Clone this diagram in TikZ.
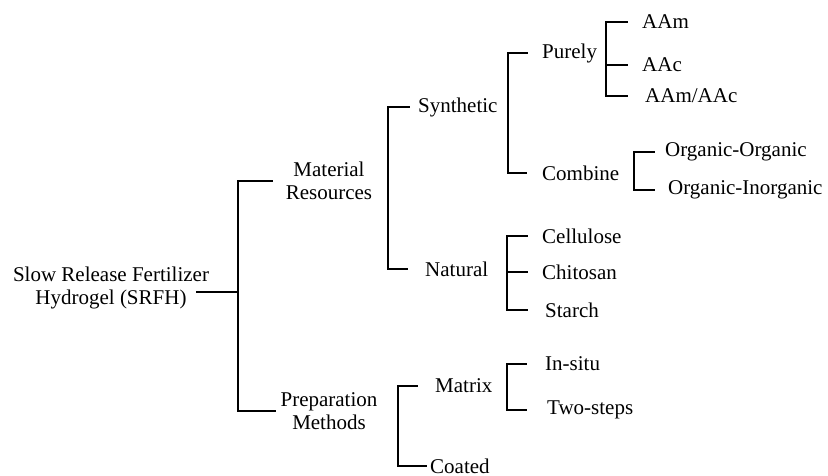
\documentclass[tikz,border=0pt]{standalone}
\usepackage{fontspec}
\setmainfont{Liberation Serif}

\begin{document}
\begin{tikzpicture}[x=1pt, y=-1pt,
            lbl/.style={inner sep=0pt, font=\fontsize{21}{23.5}\selectfont},
            leaf/.style={lbl, anchor=west},
            br/.style={line width=1.6pt},
            thickbr/.style={line width=2.4pt}]

            \useasboundingbox (0,0) rectangle (828,475);

            \node[lbl, align=center] (srfh) at (111,288) {Slow Release Fertilizer\\Hydrogel (SRFH)};
            \node[lbl, align=center] (mat) at (329,181) {Material\\Resources};
            \node[lbl, align=center] (prep) at (329,411) {Preparation\\Methods};

            \node[leaf] (syn) at (418,107) {Synthetic};
            \node[leaf] (nat) at (425,269) {Natural};
            \node[leaf] (pur) at (542,53) {Purely};
            \node[leaf] (com) at (542,173) {Combine};
            \node[leaf] (aam) at (642,22) {AAm};
            \node[leaf] (aac) at (642,65) {AAc};
            \node[leaf] (aamac) at (645,96) {AAm/AAc};
            \node[leaf] (oo) at (665,152) {Organic-Organic};
            \node[leaf] (oi) at (668,190) {Organic-Inorganic};
            \node[leaf] (cel) at (542,236) {Cellulose};
            \node[leaf] (chi) at (542,272) {Chitosan};
            \node[leaf] (sta) at (545,310) {Starch};
            \node[leaf] (mtx) at (435,386) {Matrix};
            \node[leaf] (coa) at (430,466) {Coated};
            \node[leaf] (ins) at (545,364) {In-situ};
            \node[leaf] (two) at (547,410) {Two-steps};

            \coordinate (j0) at (238,292);
            \coordinate (j1) at (388,181);
            \coordinate (j2) at (508,107);
            \coordinate (j3) at (606,65);
            \coordinate (j4) at (634,171);
            \coordinate (j5) at (507,272);
            \coordinate (j6) at (398,411);
            \coordinate (j7) at (507,387);

            \draw[br, shorten <=-13pt] (j0 -| srfh.east) -- (j0);
            \draw[br, shorten >=13pt] (j0) |- (mat.west);
            \draw[br, shorten >=4pt] (j0) |- (prep.west);

            \draw[br, shorten >=8pt] (j1) |- (syn.west);
            \draw[br, shorten >=17pt] (j1) |- (nat.west);

            \draw[br, shorten >=14pt] (j2) |- (pur.west);
            \draw[br, shorten >=15pt] (j2) |- (com.west);

            \draw[thickbr, shorten >=14pt] (j3) |- (aam.west);
            \draw[thickbr, shorten >=14pt] (j3) |- (aac.west);
            \draw[thickbr, shorten >=17pt] (j3) |- (aamac.west);

            \draw[br, shorten >=10pt] (j4) |- (oo.west);
            \draw[br, shorten >=13pt] (j4) |- (oi.west);

            \draw[br, shorten >=14pt] (j5) |- (cel.west);
            \draw[br, shorten >=14pt] (j5) |- (chi.west);
            \draw[br, shorten >=17pt] (j5) |- (sta.west);

            \draw[br, shorten >=17pt] (j6) |- (mtx.west);
            \draw[br, shorten >=3pt] (j6) |- (coa.west);

            \draw[br, shorten >=18pt] (j7) |- (ins.west);
            \draw[br, shorten >=20pt] (j7) |- (two.west);
        \end{tikzpicture}
\end{document}
